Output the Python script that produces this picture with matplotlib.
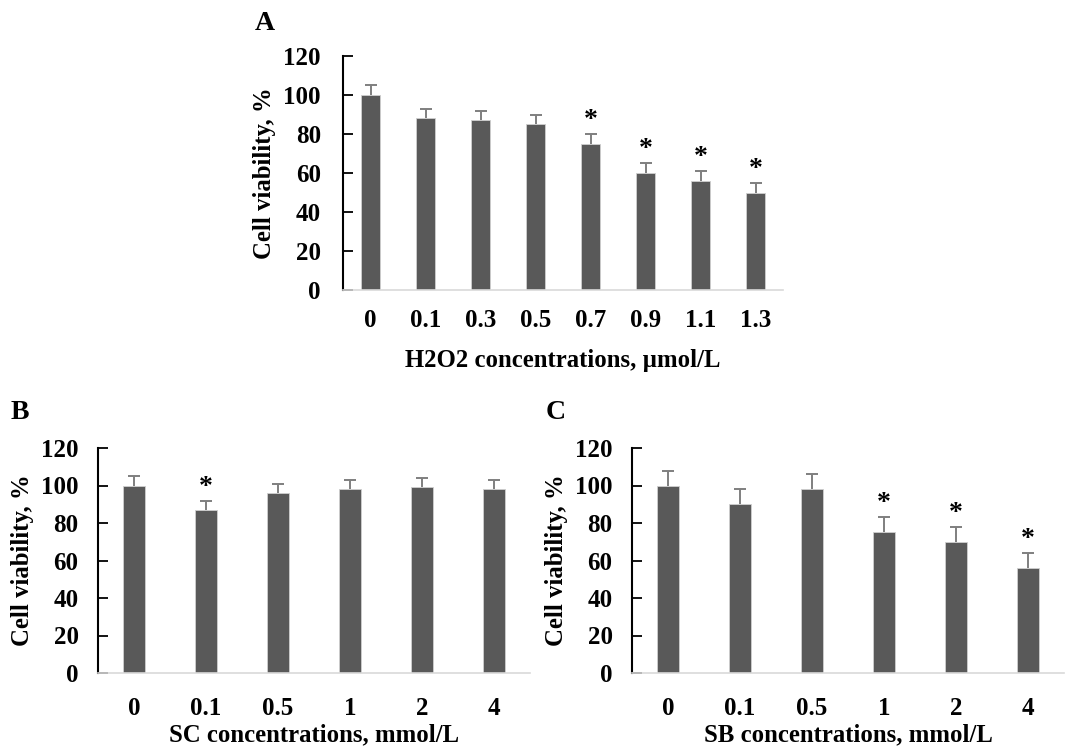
import matplotlib
matplotlib.use("Agg")
import matplotlib.pyplot as plt

plt.rcParams['font.family'] = ['Liberation Serif', 'DejaVu Serif']
plt.rcParams['font.weight'] = 'bold'

# Panel A
a_labels = ["0", "0.1", "0.3", "0.5", "0.7", "0.9", "1.1", "1.3"]
a_values = [100, 88, 87, 85, 75, 60, 56, 50]
a_errors = [5, 5, 5, 5, 5, 5, 5, 5]
a_stars = [False, False, False, False, True, True, True, True]

# Panel B
b_labels = ["0", "0.1", "0.5", "1", "2", "4"]
b_values = [100, 87, 96, 98, 99, 98]
b_errors = [5, 5, 5, 5, 5, 5]
b_stars = [False, True, False, False, False, False]

# Panel C
c_labels = ["0", "0.1", "0.5", "1", "2", "4"]
c_values = [100, 90, 98, 75, 70, 56]
c_errors = [8, 8, 8, 8, 8, 8]
c_stars = [False, False, False, True, True, True]

W, H = 1067, 749
fig = plt.figure(figsize=(W / 100, H / 100), dpi=100)

BAR = '#595959'
ERR = '#7f7f7f'
TFS = 18
LFS = 17.8


def px(l, t, r, b):
    return [l / W, 1 - b / H, (r - l) / W, (b - t) / H]


def panel(rect, labels, values, errors, stars, xlabel, width, xtick_pad, ytick_pad,
          xlab_pad, letter, letter_xy):
    ax = fig.add_axes(rect)
    x = list(range(len(labels)))
    tops = [v + e for v, e in zip(values, errors)]
    ax.bar(x, values, width=width, color=BAR, edgecolor='#cfcfcf', linewidth=0.6, zorder=2)
    ax.vlines(x, values, tops, colors=ERR, linewidth=1.4, zorder=3)
    ax.plot(x, tops, linestyle='none', marker='_', markersize=8, markeredgewidth=1.4,
            color=ERR, zorder=3)
    for xi, t, s in zip(x, tops, stars):
        if s:
            ax.text(xi, t + 0.5, '*', ha='center', va='bottom', fontsize=20, fontweight='bold')
    ax.set_xlim(-0.5, len(labels) - 0.5)
    ax.set_ylim(0, 120)
    ax.set_yticks(range(0, 121, 20))
    ax.set_xticks(x)
    ax.set_xticklabels(labels)
    ax.tick_params(axis='x', length=0, pad=xtick_pad, labelsize=TFS)
    ax.tick_params(axis='y', direction='in', length=7, width=1.3, pad=ytick_pad, labelsize=TFS)
    for sp in ['top', 'right']:
        ax.spines[sp].set_visible(False)
    ax.spines['left'].set_linewidth(1.5)
    ax.spines['bottom'].set_color('#d9d9d9')
    ax.spines['bottom'].set_linewidth(1.2)
    ax.set_ylabel('Cell viability, %', fontsize=LFS, fontweight='bold', labelpad=5)
    ax.set_xlabel(xlabel, fontsize=LFS, fontweight='bold', labelpad=xlab_pad)
    fig.text(letter_xy[0] / W, 1 - letter_xy[1] / H, letter, fontsize=20,
             fontweight='bold', ha='center', va='center')
    return ax


panel(px(343, 56, 783, 290), a_labels, a_values, a_errors, a_stars,
      'H2O2 concentrations, µmol/L', 0.36, 14, 16, 12, 'A', (265, 23))
panel(px(98, 448, 530, 673), b_labels, b_values, b_errors, b_stars,
      'SC concentrations, mmol/L', 0.3, 17, 14, 3, 'B', (20, 412))
panel(px(632, 448, 1064, 673), c_labels, c_values, c_errors, c_stars,
      'SB concentrations, mmol/L', 0.3, 17, 14, 3, 'C', (556, 412))

fig.savefig('out.png', dpi=100)
